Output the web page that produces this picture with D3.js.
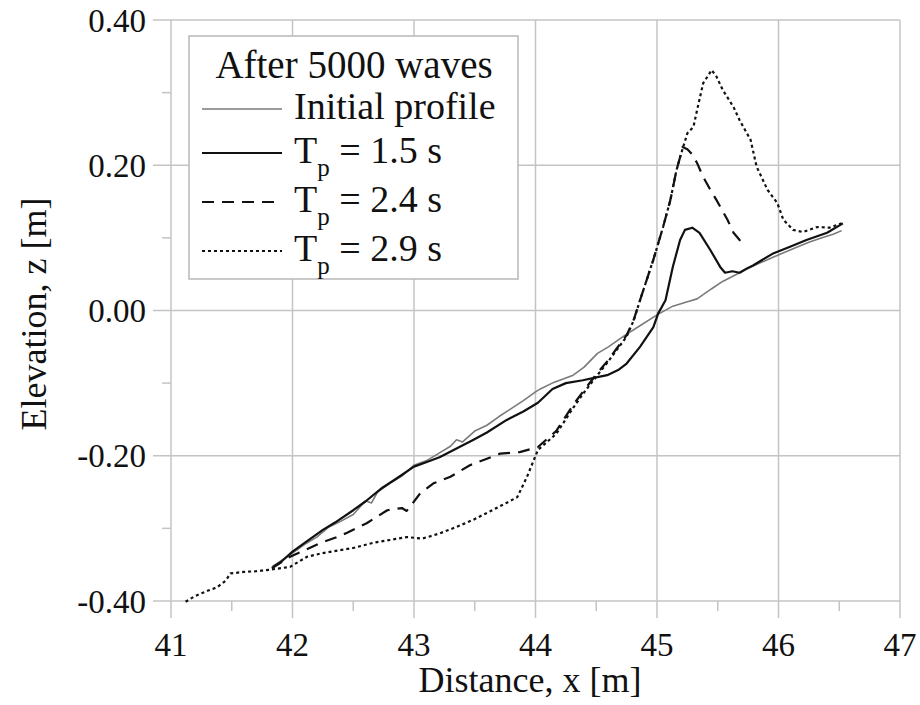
<!DOCTYPE html>
<html>
<head>
<meta charset="utf-8">
<script src="https://cdn.jsdelivr.net/npm/d3@7"></script>
<style>
  html, body { margin: 0; padding: 0; background: #fff; overflow: hidden; }
  svg { display: block; }
  text { font-family: "Liberation Serif", "Times New Roman", serif; fill: #111; }
</style>
</head>
<body>
<svg id="chart" width="920" height="705"></svg>
<script>
// axis ticks
const xTicks = [41, 42, 43, 44, 45, 46, 47];
const xMinor = [41.5, 42.5, 43.5, 44.5, 45.5, 46.5];
const yTicks = [0.4, 0.2, 0.0, -0.2, -0.4];
const yMinor = [0.3, 0.1, -0.1, -0.3];

// profiles [x, z]
const initialProfile = [[41.83,-0.353],[41.9,-0.345],[42.0,-0.334],[42.1,-0.322],[42.2,-0.312],[42.3,-0.298],[42.4,-0.290],[42.5,-0.281],[42.6,-0.262],[42.65,-0.265],[42.7,-0.250],[42.8,-0.238],[42.9,-0.228],[43.0,-0.213],[43.1,-0.207],[43.2,-0.197],[43.3,-0.187],[43.35,-0.178],[43.4,-0.181],[43.5,-0.166],[43.6,-0.158],[43.7,-0.146],[43.8,-0.135],[43.9,-0.124],[44.0,-0.112],[44.04,-0.108],[44.15,-0.099],[44.31,-0.089],[44.4,-0.078],[44.51,-0.059],[44.6,-0.050],[44.72,-0.036],[44.85,-0.022],[45.0,-0.006],[45.13,0.006],[45.25,0.012],[45.33,0.016],[45.45,0.030],[45.54,0.040],[45.68,0.052],[45.8,0.062],[45.95,0.073],[46.12,0.085],[46.25,0.094],[46.37,0.101],[46.45,0.105],[46.52,0.110]];

const tp15 = [[41.84,-0.353],[41.9,-0.347],[42.0,-0.332],[42.1,-0.320],[42.25,-0.302],[42.35,-0.292],[42.5,-0.275],[42.6,-0.263],[42.74,-0.244],[42.85,-0.232],[43.0,-0.215],[43.1,-0.209],[43.21,-0.202],[43.35,-0.190],[43.49,-0.178],[43.6,-0.168],[43.76,-0.151],[43.9,-0.139],[44.02,-0.127],[44.14,-0.108],[44.25,-0.100],[44.39,-0.096],[44.5,-0.092],[44.59,-0.089],[44.68,-0.082],[44.75,-0.073],[44.86,-0.050],[44.97,-0.023],[45.01,-0.004],[45.07,0.014],[45.13,0.060],[45.19,0.097],[45.23,0.111],[45.29,0.114],[45.35,0.107],[45.44,0.083],[45.52,0.060],[45.56,0.052],[45.62,0.054],[45.68,0.052],[45.74,0.058],[45.79,0.062],[45.95,0.078],[46.1,0.088],[46.23,0.097],[46.4,0.107],[46.53,0.120]];

const tp24 = [[41.83,-0.355],[41.98,-0.339],[42.1,-0.330],[42.23,-0.320],[42.35,-0.313],[42.45,-0.306],[42.61,-0.293],[42.78,-0.275],[42.9,-0.272],[42.94,-0.276],[43.05,-0.252],[43.16,-0.238],[43.3,-0.229],[43.46,-0.213],[43.6,-0.204],[43.71,-0.197],[43.87,-0.195],[44.02,-0.188],[44.17,-0.166],[44.31,-0.130],[44.39,-0.112],[44.5,-0.088],[44.59,-0.070],[44.67,-0.052],[44.75,-0.034],[44.81,-0.012],[44.86,0.014],[44.97,0.070],[45.05,0.115],[45.11,0.152],[45.16,0.193],[45.19,0.211],[45.21,0.225],[45.25,0.222],[45.29,0.215],[45.33,0.203],[45.38,0.184],[45.44,0.166],[45.49,0.152],[45.58,0.125],[45.63,0.107],[45.68,0.097],[45.72,0.088]];

const tp29 = [[41.12,-0.401],[41.2,-0.393],[41.3,-0.386],[41.38,-0.381],[41.45,-0.372],[41.49,-0.362],[41.6,-0.360],[41.7,-0.359],[41.81,-0.357],[41.98,-0.353],[42.12,-0.339],[42.25,-0.334],[42.39,-0.330],[42.5,-0.327],[42.66,-0.320],[42.8,-0.316],[42.94,-0.312],[43.07,-0.314],[43.21,-0.307],[43.35,-0.298],[43.49,-0.288],[43.62,-0.277],[43.76,-0.265],[43.85,-0.257],[43.93,-0.229],[44.02,-0.192],[44.17,-0.170],[44.31,-0.134],[44.39,-0.115],[44.5,-0.091],[44.59,-0.072],[44.67,-0.054],[44.75,-0.036],[44.81,-0.013],[44.86,0.014],[44.97,0.070],[45.05,0.115],[45.11,0.152],[45.16,0.193],[45.19,0.211],[45.25,0.244],[45.3,0.253],[45.33,0.276],[45.38,0.313],[45.45,0.331],[45.49,0.322],[45.54,0.304],[45.63,0.280],[45.68,0.262],[45.77,0.235],[45.82,0.198],[45.91,0.166],[45.99,0.148],[46.04,0.125],[46.12,0.111],[46.2,0.108],[46.32,0.115],[46.42,0.114],[46.52,0.120]];

const series = [
  { label: "Initial profile", data: initialProfile, color: "#7a7a7a", width: 1.6, dash: null },
  { label: "1.5", data: tp15, color: "#111", width: 2.2, dash: null },
  { label: "2.4", data: tp24, color: "#111", width: 2.2, dash: "12,8" },
  { label: "2.9", data: tp29, color: "#111", width: 2.2, dash: "3,3" },
];

const margin = { top: 20, left: 171 },
  innerWidth = 729,
  innerHeight = 581;

const svg = d3.select("#chart");
const g = svg.append("g").attr("transform", `translate(${margin.left},${margin.top})`);

const x = d3.scaleLinear().domain([41, 47]).range([0, innerWidth]);
const y = d3.scaleLinear().domain([-0.4, 0.4]).range([innerHeight, 0]);

const gridColor = "#c4c4c4";

// grid lines (they stick out past the axes like ticks)
g.selectAll(".vgrid").data(xTicks).join("line")
  .attr("x1", d => x(d)).attr("x2", d => x(d))
  .attr("y1", 0).attr("y2", innerHeight + 17)
  .attr("stroke", gridColor).attr("stroke-width", 1.5);
g.selectAll(".hgrid").data(yTicks).join("line")
  .attr("x1", -18).attr("x2", innerWidth)
  .attr("y1", d => y(d)).attr("y2", d => y(d))
  .attr("stroke", gridColor).attr("stroke-width", 1.5);

// minor ticks
g.selectAll(".xminor").data(xMinor).join("line")
  .attr("x1", d => x(d)).attr("x2", d => x(d))
  .attr("y1", innerHeight).attr("y2", innerHeight + 10)
  .attr("stroke", gridColor).attr("stroke-width", 1.5);
g.selectAll(".yminor").data(yMinor).join("line")
  .attr("x1", -9).attr("x2", 0)
  .attr("y1", d => y(d)).attr("y2", d => y(d))
  .attr("stroke", gridColor).attr("stroke-width", 1.5);

// tick labels
g.selectAll(".xlab").data(xTicks).join("text")
  .attr("x", d => x(d)).attr("y", innerHeight + 55)
  .attr("text-anchor", "middle").attr("font-size", 33)
  .text(d => d);
g.selectAll(".ylab").data(yTicks).join("text")
  .attr("x", -25).attr("y", d => y(d)).attr("dy", "0.35em")
  .attr("text-anchor", "end").attr("font-size", 33)
  .text(d => d3.format(".2f")(d).replace("\u2212", "-"));

// axis titles
svg.append("text")
  .attr("x", 530).attr("y", 692)
  .attr("text-anchor", "middle").attr("font-size", 36)
  .text("Distance, x [m]");
svg.append("text")
  .attr("transform", "translate(46,314) rotate(-90)")
  .attr("text-anchor", "middle").attr("font-size", 36)
  .text("Elevation, z [m]");

// profile lines
const line = d3.line().x(d => x(d[0])).y(d => y(d[1]));
g.selectAll(".profile").data(series).join("path")
  .attr("fill", "none")
  .attr("stroke", d => d.color)
  .attr("stroke-width", d => d.width)
  .attr("stroke-dasharray", d => d.dash)
  .attr("stroke-linejoin", "round")
  .attr("d", d => line(d.data));

// legend
const legend = svg.append("g");
legend.append("rect")
  .attr("x", 189).attr("y", 36).attr("width", 329).attr("height", 243)
  .attr("fill", "#fff").attr("stroke", "#b8b8b8").attr("stroke-width", 1.5);
legend.append("text")
  .attr("x", 354).attr("y", 78).attr("text-anchor", "middle").attr("font-size", 39)
  .text("After 5000 waves");

const rows = [119, 163, 212, 261];
series.forEach((s, i) => {
  const by = rows[i];
  legend.append("line")
    .attr("x1", 202).attr("x2", 282)
    .attr("y1", by - 10).attr("y2", by - 10)
    .attr("stroke", s.color).attr("stroke-width", s.width)
    .attr("stroke-dasharray", s.dash);
  const t = legend.append("text").attr("x", 294).attr("y", by).attr("font-size", 38);
  if (i === 0) {
    t.text(s.label);
  } else {
    t.append("tspan").text("T");
    t.append("tspan").attr("font-size", 25).attr("dy", 13).text("p");
    t.append("tspan").attr("dy", -13).text(" = " + s.label + " s");
  }
});
</script>
</body>
</html>
